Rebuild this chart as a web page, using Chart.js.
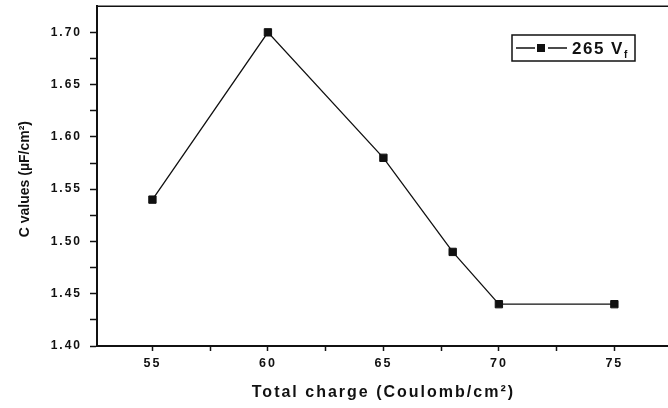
<!DOCTYPE html>
<html>
<head>
<meta charset="utf-8">
<script src="https://cdn.jsdelivr.net/npm/chart.js@4/dist/chart.umd.min.js"></script>
<style>
  html, body { margin: 0; padding: 0; background: #fff; overflow: hidden; }
  #wrap { width: 668px; height: 408px; overflow: hidden; }
  canvas { display: block; }
</style>
</head>
<body>
<div id="wrap"><canvas id="c" width="676" height="408"></canvas></div>
<script>
// data
const charge = [55, 60, 65, 68, 70, 75];          // Coulomb/cm²
const cValues = [1.54, 1.70, 1.58, 1.49, 1.44, 1.44]; // µF/cm²
const seriesLabel = '265 V';
const seriesSub = 'f';
const xTicks = [55, 57.5, 60, 62.5, 65, 67.5, 70, 72.5, 75];
const yTicks = [1.40, 1.425, 1.45, 1.475, 1.50, 1.525, 1.55, 1.575, 1.60, 1.625, 1.65, 1.675, 1.70];
const xTitle = 'Total charge (Coulomb/cm²)';
const yTitle = 'C values (µF/cm²)';

const FONT = '"Liberation Sans", Arial, sans-serif';
const INK = '#111';

// wider letters like the scanned figure, frame line on top, y title, legend box
const decor = {
  id: 'decor',
  beforeDraw(chart){ chart.ctx.letterSpacing = '2px'; },
  afterDraw(chart){
    const {ctx, chartArea: a} = chart;
    ctx.save();
    ctx.strokeStyle = INK;
    ctx.lineWidth = 1.5;
    ctx.beginPath(); ctx.moveTo(a.left, a.top); ctx.lineTo(a.right, a.top); ctx.stroke();

    // y axis title
    ctx.letterSpacing = '0px';
    ctx.fillStyle = INK;
    ctx.font = `bold 14px ${FONT}`;
    ctx.textAlign = 'center';
    ctx.textBaseline = 'middle';
    ctx.save();
    ctx.translate(25, (a.top + a.bottom) / 2 + 3);
    ctx.rotate(-Math.PI / 2);
    ctx.fillText(yTitle, 0, 0);
    ctx.restore();

    // legend
    const bx = 512, by = 35, bw = 123, bh = 26, cy = by + bh / 2;
    ctx.lineWidth = 1.5;
    ctx.strokeRect(bx, by, bw, bh);
    ctx.lineWidth = 1.3;
    ctx.beginPath();
    ctx.moveTo(516, cy); ctx.lineTo(535, cy);
    ctx.moveTo(548, cy); ctx.lineTo(567, cy);
    ctx.stroke();
    ctx.fillRect(541 - 4, cy - 4, 8, 8);
    ctx.letterSpacing = '1.5px';
    ctx.font = `bold 17px ${FONT}`;
    ctx.textAlign = 'left';
    ctx.textBaseline = 'alphabetic';
    ctx.fillText(seriesLabel, 572, cy + 6);
    const w = ctx.measureText(seriesLabel).width;
    ctx.letterSpacing = '0px';
    ctx.font = `bold 10px ${FONT}`;
    ctx.fillText(seriesSub, 572 + w, cy + 10);
    ctx.restore();
  }
};

new Chart(document.getElementById('c'), {
  type: 'line',
  data: {
    datasets: [{
      label: seriesLabel,
      data: charge.map((x, i) => ({x, y: cValues[i]})),
      borderColor: INK,
      backgroundColor: INK,
      borderWidth: 1.3,
      pointStyle: 'rect',
      pointRadius: 5.2,
      pointBorderWidth: 1,
      tension: 0
    }]
  },
  options: {
    responsive: false,
    animation: false,
    layout: { padding: { top: 6, left: 0, right: 0, bottom: 0 } },
    plugins: { legend: { display: false }, tooltip: { enabled: false } },
    scales: {
      x: {
        type: 'linear',
        min: 52.6, max: 77.4,
        afterBuildTicks: s => { s.ticks = xTicks.map(v => ({value: v})); },
        afterFit: s => { s.height = 62; s.paddingLeft = 0; s.paddingRight = 0; },
        grid: { drawOnChartArea: false, drawTicks: true, tickLength: 5, tickWidth: 1.5, tickColor: INK },
        border: { display: true, color: INK, width: 2 },
        ticks: {
          autoSkip: false, maxRotation: 0, padding: 5, color: INK,
          font: { family: FONT, size: 12.5, weight: 'bold' },
          callback: v => (v % 5 === 0 ? String(v) : '')
        },
        title: {
          display: true, text: xTitle, color: INK,
          font: { family: FONT, size: 16, weight: 'bold' },
          padding: { top: 0, bottom: 6 }
        }
      },
      y: {
        type: 'linear',
        min: 1.40, max: 1.725,
        afterBuildTicks: s => { s.ticks = yTicks.map(v => ({value: v})); },
        afterFit: s => { s.width = 97; s.paddingTop = 0; s.paddingBottom = 0; },
        grid: { drawOnChartArea: false, drawTicks: true, tickLength: 7, tickWidth: 1.5, tickColor: INK },
        border: { display: true, color: INK, width: 2 },
        ticks: {
          autoSkip: false, padding: 8, color: INK,
          font: { family: FONT, size: 12, weight: 'bold' },
          callback: (v, i) => (i % 2 === 0 ? v.toFixed(2) : '')
        },
        title: { display: false }
      }
    }
  },
  plugins: [decor]
});
</script>
</body>
</html>
